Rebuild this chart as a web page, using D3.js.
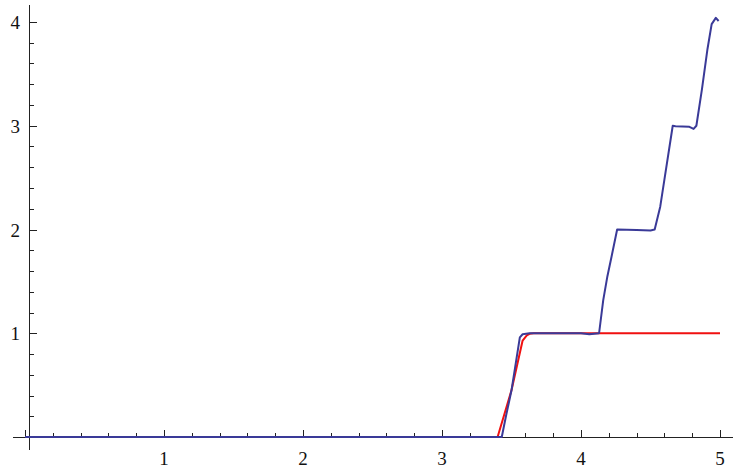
<!DOCTYPE html>
<html>
<head>
<meta charset="utf-8">
<script src="https://cdn.jsdelivr.net/npm/d3@7"></script>
<style>
  html, body { margin: 0; padding: 0; background: #fff; }
  svg text { font-family: "Liberation Serif", "DejaVu Serif", serif; font-size: 19px; fill: #111; }
</style>
</head>
<body>
<svg id="chart" width="734" height="468"></svg>
<script>
// Step response (red) and staircase counter (blue)
const redX = [0, 3.40, 3.50, 3.58, 3.61, 3.63, 3.66, 5.0];
const redY = [0, 0, 0.45, 0.93, 0.98, 0.995, 1.0, 1.0];

const blueX = [0, 3.43, 3.46, 3.50, 3.56, 3.58, 3.63, 4.00, 4.06, 4.13, 4.16, 4.19, 4.22, 4.26, 4.40, 4.50, 4.53, 4.57, 4.60, 4.66, 4.68, 4.78, 4.81, 4.83, 4.87, 4.91, 4.94, 4.97, 4.99];
const blueY = [0, 0, 0.20, 0.45, 0.96, 0.99, 1.0, 1.0, 0.99, 1.0, 1.32, 1.55, 1.74, 2.0, 1.995, 1.99, 2.0, 2.22, 2.48, 3.0, 2.995, 2.99, 2.97, 3.0, 3.35, 3.74, 3.98, 4.04, 4.01];

const xTicks = [1, 2, 3, 4, 5];
const yTicks = [1, 2, 3, 4];

const svg = d3.select("#chart");
const x = d3.scaleLinear().domain([0, 5]).range([25, 720]);
const y = d3.scaleLinear().domain([0, 4]).range([437, 22]);

const axisColor = "#222";
const axisX0 = 29; // vertical axis position in pixels
const axisG = svg.append("g").attr("stroke", axisColor).attr("stroke-width", 1).attr("shape-rendering", "crispEdges");

// horizontal axis line
axisG.append("line").attr("x1", 13).attr("x2", 733).attr("y1", y(0)).attr("y2", y(0));
// vertical axis line
axisG.append("line").attr("x1", axisX0).attr("x2", axisX0).attr("y1", 5).attr("y2", 450);

// x ticks (major and minor), pointing up
const xMinor = d3.range(0, 26).map(i => i * 0.2);
axisG.selectAll(".xt").data(xMinor).join("line")
  .attr("x1", d => Math.round(x(d)) + 0.5).attr("x2", d => Math.round(x(d)) + 0.5)
  .attr("y1", y(0)).attr("y2", d => y(0) - (Math.abs(d - Math.round(d)) < 1e-9 ? 7 : 4));

// y ticks, pointing right
const yMinor = d3.range(1, 21).map(i => i * 0.2);
axisG.selectAll(".yt").data(yMinor).join("line")
  .attr("x1", axisX0).attr("x2", d => axisX0 + (Math.abs(d - Math.round(d)) < 1e-9 ? 8 : 5))
  .attr("y1", d => Math.round(y(d)) + 0.5).attr("y2", d => Math.round(y(d)) + 0.5);

// tick labels
svg.selectAll(".xl").data(xTicks).join("text")
  .attr("x", d => x(d)).attr("y", 465).attr("text-anchor", "middle").text(d => d);
svg.selectAll(".yl").data(yTicks).join("text")
  .attr("x", 20).attr("y", d => y(d) + 7).attr("text-anchor", "end").text(d => d);

const line = d3.line().x(d => x(d[0])).y(d => y(d[1])).curve(d3.curveLinear);

svg.append("path")
  .attr("d", line(redX.map((v, i) => [v, redY[i]])))
  .attr("fill", "none").attr("stroke", "#f01010").attr("stroke-width", 2).attr("stroke-linejoin", "round");

svg.append("path")
  .attr("d", line(blueX.map((v, i) => [v, blueY[i]])))
  .attr("fill", "none").attr("stroke", "#3a3a98").attr("stroke-width", 2).attr("stroke-linejoin", "round");
</script>
</body>
</html>
